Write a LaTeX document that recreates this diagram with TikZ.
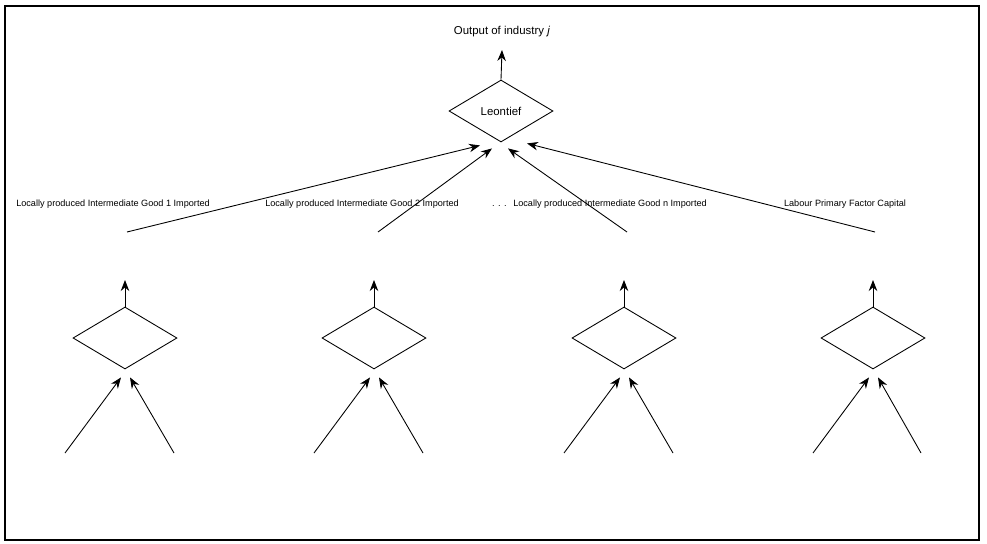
\documentclass[tikz,border=0pt]{standalone}
\usepackage{fontspec}
\setmainfont{Liberation Sans}
\usetikzlibrary{arrows.meta,shapes.geometric}

\begin{document}
\begin{tikzpicture}[x=0.02cm, y=-0.02cm,
  font=\fontsize{6.5}{8}\selectfont,
  nest/.style={draw, diamond, minimum width=2.08cm, minimum height=1.24cm, inner sep=0pt, line width=0.5pt},
  up/.style={-{Stealth[length=2.2mm, width=1.7mm]}, line width=0.5pt},
  lbl/.style={inner sep=0pt, font=\fontsize{5.2}{6}\selectfont}]
\useasboundingbox (0,0) rectangle (987,544);
\draw[line width=1pt] (5,6) rectangle (979,540);
% top nest
\node[nest] (leo) at (501,111) {Leontief};
\node[inner sep=0pt] (out) at (502,32) {Output of industry \textit{j}};
\coordinate (otip) at (502,50);
\draw[up] (leo.north) -- (otip);
% lower nests
\node[nest] (n1) at (125,338) {};
\node[nest] (n2) at (374,338) {};
\node[nest] (n3) at (624,338) {};
\node[nest] (n4) at (873,338) {};
\coordinate (o1) at (125,280);
\coordinate (o2) at (374,280);
\coordinate (o3) at (624,280);
\coordinate (o4) at (873,280);
\draw[up] (n1.north) -- (o1);
\draw[up] (n2.north) -- (o2);
\draw[up] (n3.north) -- (o3);
\draw[up] (n4.north) -- (o4);
% inputs of the lower nests
\coordinate (a1) at (65,453);  \coordinate (b1) at (174,453);
\coordinate (a2) at (314,453); \coordinate (b2) at (423,453);
\coordinate (a3) at (564,453); \coordinate (b3) at (673,453);
\coordinate (a4) at (813,453); \coordinate (b4) at (921,453);
\draw[up] (a1) -- ([shift={(-4,8)}]n1.south);
\draw[up] (b1) -- ([shift={(5,8)}]n1.south);
\draw[up] (a2) -- ([shift={(-4,8)}]n2.south);
\draw[up] (b2) -- ([shift={(5,8)}]n2.south);
\draw[up] (a3) -- ([shift={(-4,8)}]n3.south);
\draw[up] (b3) -- ([shift={(5,8)}]n3.south);
\draw[up] (a4) -- ([shift={(-4,8)}]n4.south);
\draw[up] (b4) -- ([shift={(5,8)}]n4.south);
% into Leontief
\coordinate (s1) at (127,232);
\coordinate (s2) at (378,232);
\coordinate (s3) at (627,232);
\coordinate (s4) at (875,232);
\draw[up] (s1) -- ([shift={(-21,3)}]leo.south);
\draw[up] (s2) -- ([shift={(-9,6)}]leo.south);
\draw[up] (s3) -- ([shift={(7,6)}]leo.south);
\draw[up] (s4) -- ([shift={(26,1)}]leo.south);
% labels
\node[lbl, anchor=base] (g1) at (113,206) {Locally produced Intermediate Good 1 Imported};
\node[lbl, anchor=base] (g2) at (362,206) {Locally produced Intermediate Good 2 Imported};
\node[lbl, anchor=base] (g3) at (610,206) {Locally produced Intermediate Good n Imported};
\node[lbl, anchor=base east] (dots) at ([shift={(-6,0)}]g3.base west) {. . .};
\node[lbl, anchor=base] (pf) at (845,206) {Labour Primary Factor Capital};
\end{tikzpicture}
\end{document}
